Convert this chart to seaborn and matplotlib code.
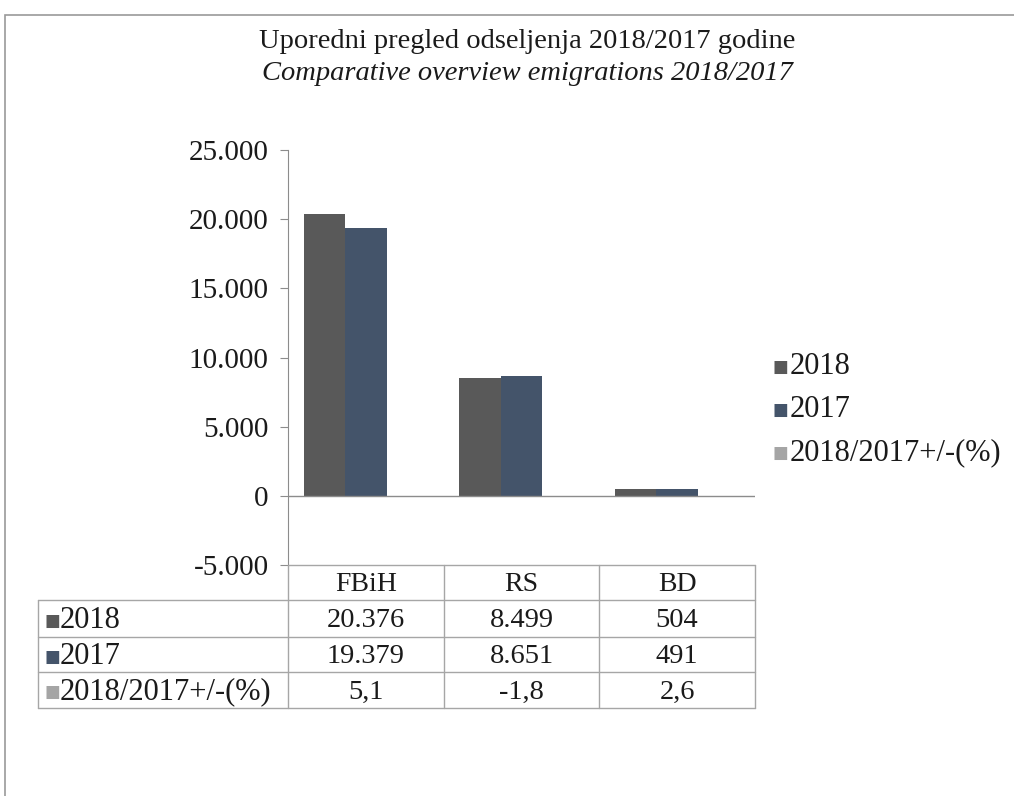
import numpy as np
import pandas as pd
import matplotlib
matplotlib.use('Agg')
import matplotlib.pyplot as plt
import matplotlib.transforms as mtransforms
from matplotlib.patches import Rectangle
import seaborn as sns

regions = ['FBiH', 'RS', 'BD']
series = ['2018', '2017', '2018/2017+/-(%)']
v2018 = [20376, 8499, 504]
v2017 = [19379, 8651, 491]
vpct = [5.1, -1.8, 2.6]
table_2018 = ['20.376', '8.499', '504']
table_2017 = ['19.379', '8.651', '491']
table_pct = ['5,1', '-1,8', '2,6']
colors = ['#595959', '#44546A', '#A5A5A5']
yticks = [-5000, 0, 5000, 10000, 15000, 20000, 25000]

df = pd.DataFrame({
    'region': regions * 3,
    'series': [series[0]] * 3 + [series[1]] * 3 + [series[2]] * 3,
    'value': v2018 + v2017 + vpct,
})

sns.set_style('white')
plt.rcParams['font.family'] = ['Liberation Serif', 'DejaVu Sans']
TXT = '#1a1a1a'

W, H = 1014, 796
fig = plt.figure(figsize=(W / 100, H / 100), dpi=100)

def fx(px):
    return px / W

def fy(py):
    return 1 - py / H

# outer chart frame
fig.patches.append(Rectangle((fx(5), fy(1000)), 1.2, fy(15) - fy(1000), transform=fig.transFigure,
                             fill=False, edgecolor='#9a9a9a', linewidth=1.2))

ax = fig.add_axes([fx(288), fy(565), fx(755) - fx(288), fy(150) - fy(565)])
sns.barplot(data=df, x='region', y='value', hue='series', palette=colors, saturation=1,
            width=0.8, ax=ax, legend=False, linewidth=0)
ax.set_xlim(-0.5, 2.5)
ax.set_ylim(-5000, 25000)
ax.set_yticks(yticks)
ax.set_yticklabels([f'{t:,}'.replace(',', '.') for t in yticks], fontsize=21)
ax.set_xticks([])
ax.set_xlabel('')
ax.set_ylabel('')
for s in ['top', 'right', 'bottom']:
    ax.spines[s].set_visible(False)
ax.spines['left'].set_color('#8c8c8c')
ax.tick_params(axis='y', which='major', left=True, length=6, color='#8c8c8c', pad=8, labelcolor=TXT)
ax.axhline(0, color='#8c8c8c', linewidth=1)

# title
fig.text(fx(527), fy(42), 'Uporedni pregled odseljenja 2018/2017 godine', ha='center', va='center',
         fontsize=20.5, color=TXT)
fig.text(fx(527), fy(73), 'Comparative overview emigrations 2018/2017', ha='center', va='center',
         fontsize=20.5, style='italic', color=TXT)

# legend
legend_y = [367, 410, 453]
for name, col, ly in zip(series, colors, legend_y):
    fig.text(fx(773), fy(ly), '■', color=col, fontsize=12, ha='left', va='center',
             family=['DejaVu Sans'])
    fig.text(fx(790), fy(ly), name, color=TXT, fontsize=22, ha='left', va='center')

# data table
tr = mtransforms.blended_transform_factory(ax.transData, fig.transFigure)
grid_col = '#a6a6a6'
row_edges = [565, 600, 637, 672, 708]
col_edges = [-0.5, 0.5, 1.5, 2.5]
for e in col_edges:
    fig.add_artist(plt.Line2D([e, e], [fy(row_edges[0]), fy(row_edges[-1])], transform=tr,
                              color=grid_col, lw=1))
fig.add_artist(plt.Line2D([fx(38), fx(38)], [fy(row_edges[1]), fy(row_edges[-1])],
                          transform=fig.transFigure, color=grid_col, lw=1))
fig.add_artist(plt.Line2D([-0.5, 2.5], [fy(row_edges[0])] * 2, transform=tr, color=grid_col, lw=1))
for r in row_edges[1:]:
    fig.add_artist(plt.Line2D([fx(38), fx(755)], [fy(r)] * 2, transform=fig.transFigure,
                              color=grid_col, lw=1))

for i, reg in enumerate(regions):
    fig.text(i, fy((row_edges[0] + row_edges[1]) / 2 + 2), reg, transform=tr, ha='center',
             va='center', fontsize=20, color=TXT)
rows = [table_2018, table_2017, table_pct]
for k, (name, col, vals) in enumerate(zip(series, colors, rows)):
    yc = fy((row_edges[k + 1] + row_edges[k + 2]) / 2 + 2)
    fig.text(fx(45), yc, '■', color=col, fontsize=12, ha='left', va='center', family=['DejaVu Sans'])
    fig.text(fx(60), yc, name, color=TXT, fontsize=22, ha='left', va='center')
    for i, v in enumerate(vals):
        fig.text(i, yc, v, transform=tr, ha='center', va='center', fontsize=20.5, color=TXT)

fig.savefig('out.png', dpi=100, facecolor='white')
